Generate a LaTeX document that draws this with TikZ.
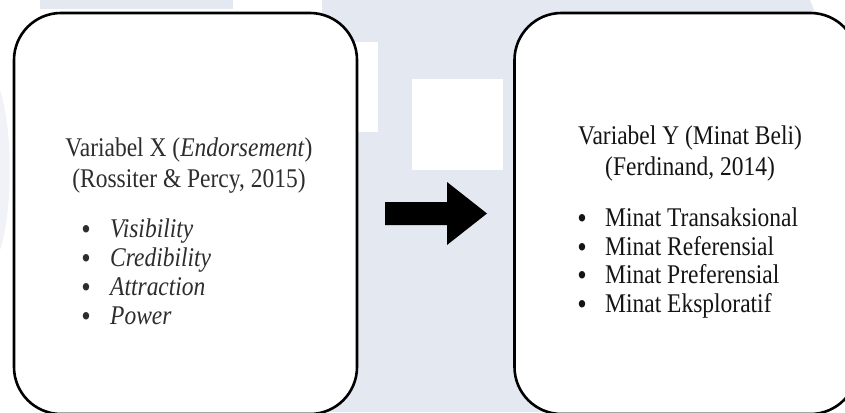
\documentclass[tikz,border=0pt]{standalone}
\usepackage{fontspec}
\setmainfont{Liberation Serif}[FakeStretch=0.87]
\definecolor{wm}{RGB}{227,232,241}
\definecolor{txtL}{RGB}{45,45,45}
\definecolor{txtR}{RGB}{20,20,20}
\begin{document}
\begin{tikzpicture}[x=1pt,y=-1pt,
  box/.style={draw=black, line width=2.6pt, fill=white, rounded corners=47pt,
    minimum width=343pt, minimum height=401pt, inner sep=0pt},
  lbl/.style={anchor=base, inner sep=0pt, font=\fontsize{27}{31}\selectfont},
  item/.style={anchor=base west, inner sep=0pt, font=\fontsize{27}{31}\selectfont},
  dot/.style={anchor=base, inner sep=0pt, font=\fontsize{31}{31}\selectfont}]
\useasboundingbox (0,0) rectangle (845,412);
\fill[white] (0,0) rectangle (845,412);
% watermark
\fill[wm] (40,0) rectangle (233,9);
\fill[wm!55] (0,90) .. controls (13,130) and (13,210) .. (0,250) -- cycle;
\fill[wm] (322,0) -- (810,0) -- (818,20) -- (818,412) -- (322,412) -- cycle;
\fill[white] (300,42) rectangle (378,132);
\fill[white] (412,79) rectangle (503,170);
% boxes
\node[box] (boxX) at (185.5,213.5) {};
\node[box] (boxY) at (686,213.5) {};
% arrow
\fill[black] (385,202) -- (447,202) -- (447,182) -- (487,213.5) -- (447,245) -- (447,225) -- (385,225) -- cycle;
% left text
\node[lbl, text=txtL] (tx1) at (189,156) {Variabel X (\textit{Endorsement})};
\node[lbl, text=txtL] (tx2) at (189,187) {(Rossiter \& Percy, 2015)};
\node[dot, text=txtL] (bx1) at (86,239) {•};
\node[dot, text=txtL] (bx2) at (86,268) {•};
\node[dot, text=txtL] (bx3) at (86,297) {•};
\node[dot, text=txtL] (bx4) at (86,326) {•};
\node[item, text=txtL] (ix1) at (110,237) {\textit{Visibility}};
\node[item, text=txtL] (ix2) at (110,266) {\textit{Credibility}};
\node[item, text=txtL] (ix3) at (110,295) {\textit{Attraction}};
\node[item, text=txtL] (ix4) at (110,324) {\textit{Power}};
% right text
\node[lbl, text=txtR] (ty1) at (690,144) {Variabel Y (Minat Beli)};
\node[lbl, text=txtR] (ty2) at (690,175) {(Ferdinand, 2014)};
\node[dot, text=txtR] (by1) at (582,228) {•};
\node[dot, text=txtR] (by2) at (582,257) {•};
\node[dot, text=txtR] (by3) at (582,285) {•};
\node[dot, text=txtR] (by4) at (582,314) {•};
\node[item, text=txtR] (iy1) at (605,226) {Minat Transaksional};
\node[item, text=txtR] (iy2) at (605,255) {Minat Referensial};
\node[item, text=txtR] (iy3) at (605,283) {Minat Preferensial};
\node[item, text=txtR] (iy4) at (605,312) {Minat Eksploratif};
\end{tikzpicture}
\end{document}
